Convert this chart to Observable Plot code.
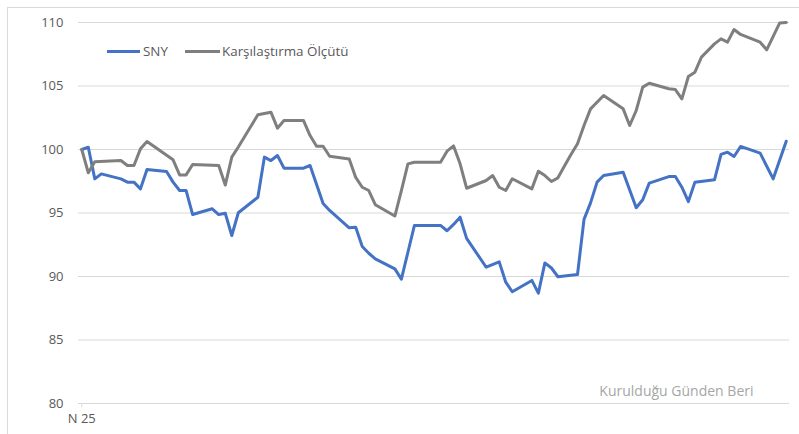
<!DOCTYPE html>
<html>
<head>
<meta charset="utf-8">
<script src="https://cdn.jsdelivr.net/npm/d3@7"></script>
<script src="https://cdn.jsdelivr.net/npm/@observablehq/plot@0.6"></script>
<style>
  html, body { margin: 0; padding: 0; background: #fff; }
  #wrap { position: relative; width: 799px; height: 434px; font-family: "Open Sans", sans-serif; }
  .sw { position: absolute; height: 3px; top: 50px; }
  .lt { position: absolute; top: 41px; font-size: 13.4px; line-height: 20px; color: #595959; white-space: nowrap; }
</style>
</head>
<body>
<div id="wrap"></div>
<script>
// Series names and colours
const seriesNames = ["SNY", "Karşılaştırma Ölçütü"];
const seriesColors = ["#4472C4", "#7F7F7F"];

// Day index (x) and values
const snyDay = [0,1,2,3,6,7,8,9,10,13,14,15,16,17,20,21,22,23,24,27,28,29,30,31,34,35,37,38,41,42,43,44,45,48,49,50,51,55,56,57,58,59,62,64,65,66,69,70,71,72,73,76,77,78,79,80,83,85,86,87,90,91,92,93,94,97,98,99,100,101,104,106,108];
const snyVal = [100,100.18,97.69,98.08,97.69,97.43,97.43,96.9,98.43,98.27,97.43,96.77,96.77,94.88,95.33,94.88,94.98,93.23,95.02,96.24,99.4,99.13,99.53,98.53,98.53,98.74,95.75,95.2,93.83,93.88,92.36,91.83,91.39,90.6,89.79,91.91,94.02,94.02,93.6,94.1,94.67,93.0,90.73,91.15,89.55,88.8,89.69,88.69,91.07,90.67,89.98,90.16,94.5,95.8,97.43,97.95,98.21,95.41,96.04,97.35,97.87,97.87,97.03,95.9,97.43,97.61,99.61,99.79,99.45,100.24,99.71,97.69,100.65];

const benchDay = [0,1,2,6,7,8,9,10,14,15,16,17,21,22,23,24,27,29,30,31,34,35,36,37,38,41,42,43,44,45,48,49,50,51,55,56,57,58,59,62,63,64,65,66,69,70,71,72,73,74,75,76,77,78,80,83,84,85,86,87,90,91,92,93,94,95,97,98,99,100,101,104,105,107,108];
const benchVal = [100,98.17,99.03,99.13,98.74,98.74,100.05,100.63,99.19,98.0,98.0,98.82,98.74,97.2,99.4,100.2,102.73,102.94,101.68,102.28,102.28,101.1,100.26,100.26,99.47,99.25,97.8,97.03,96.77,95.65,94.76,96.77,98.87,99.0,99.0,99.87,100.28,98.87,96.95,97.56,97.95,97.03,96.77,97.7,96.9,98.29,97.95,97.48,97.77,98.7,99.6,100.45,101.89,103.2,104.25,103.2,101.89,103.07,104.91,105.22,104.78,104.72,103.99,105.75,106.09,107.27,108.32,108.71,108.45,109.45,109.06,108.45,107.85,109.97,110.0];

// Axis ticks
const yTicks = [80, 85, 90, 95, 100, 105, 110];
const xTicks = [0];
const xTickLabels = ["N 25"];
const note = "Kurulduğu Günden Beri";

const sny = snyDay.map((d, i) => ({d, v: snyVal[i]}));
const bench = benchDay.map((d, i) => ({d, v: benchVal[i]}));

const chart = Plot.plot({
  width: 799,
  height: 434,
  marginLeft: 78,
  marginRight: 10,
  marginTop: 22,
  marginBottom: 31,
  style: { fontFamily: "'Open Sans', sans-serif", fontSize: "13px", color: "#595959", background: "transparent", overflow: "visible" },
  x: { domain: [-0.5, 108.5], axis: null, label: null },
  y: { domain: [80, 110], axis: null, label: null },
  marks: [
    Plot.ruleY(yTicks, { stroke: "#d9d9d9", strokeWidth: 1 }),
    Plot.axisY(yTicks, { tickSize: 0, tickPadding: 15, fill: "#595959", fontSize: 13, label: null }),
    Plot.axisX(xTicks, { tickFormat: (d, i) => xTickLabels[i], tickSize: 4, tickPadding: 6, stroke: "#d9d9d9", fill: "#595959", fontSize: 13, label: null }),
    Plot.line(sny, { x: "d", y: "v", stroke: seriesColors[0], strokeWidth: 3, strokeLinejoin: "round", strokeLinecap: "round" }),
    Plot.line(bench, { x: "d", y: "v", stroke: seriesColors[1], strokeWidth: 3, strokeLinejoin: "round", strokeLinecap: "round" }),
    Plot.text([note], { frameAnchor: "bottom-right", dx: -36, dy: -8, text: d => d, fill: "#A6A6A6", fontSize: 14 })
  ]
});

const wrap = document.getElementById("wrap");
wrap.appendChild(chart);

// Outer chart border (top and left edges visible)
const svg = d3.select(chart);
svg.insert("rect", ":first-child")
  .attr("x", 7.5).attr("y", 7.5).attr("width", 820).attr("height", 440)
  .attr("fill", "none").attr("stroke", "#d9d9d9");

// Legend
const swLeft = [107, 185], swWidth = [33, 35], txtLeft = [143, 222];
seriesNames.forEach((n, i) => {
  const sw = document.createElement("div");
  sw.className = "sw";
  sw.style.left = swLeft[i] + "px";
  sw.style.width = swWidth[i] + "px";
  sw.style.background = seriesColors[i];
  wrap.appendChild(sw);
  const t = document.createElement("div");
  t.className = "lt";
  t.style.left = txtLeft[i] + "px";
  t.textContent = n;
  wrap.appendChild(t);
});
</script>
</body>
</html>
